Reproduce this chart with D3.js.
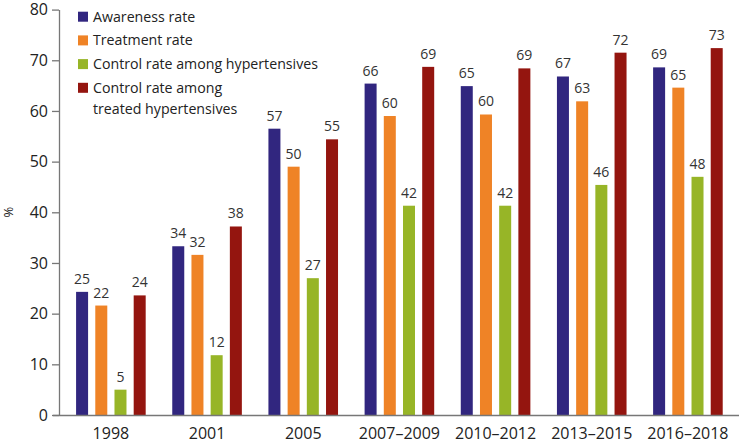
<!DOCTYPE html>
<html><head><meta charset="utf-8">
<script src="https://cdn.jsdelivr.net/npm/d3@7"></script>
<style>body{margin:0;background:#fff}svg{display:block}text{font-family:"Open Sans",sans-serif}</style>
</head><body><svg id="c" width="740" height="443"></svg>
<script>
const categories = ["1998","2001","2005","2007\u20132009","2010\u20132012","2013\u20132015","2016\u20132018"];
const seriesNames = ["Awareness rate","Treatment rate","Control rate among hypertensives","Control rate among treated hypertensives"];
const awareness = [24.3,33.3,56.5,65.4,64.9,66.8,68.6];
const treatment = [21.6,31.6,49.0,59.0,59.3,61.9,64.6];
const controlAll = [5.0,11.8,27.0,41.3,41.3,45.4,47.0];
const controlTreated = [23.6,37.2,54.4,68.7,68.4,71.5,72.4];
const awarenessLabels = ["25","34","57","66","65","67","69"];
const treatmentLabels = ["22","32","50","60","60","63","65"];
const controlAllLabels = ["5","12","27","42","42","46","48"];
const controlTreatedLabels = ["24","38","55","69","69","72","73"];
const yTicks = [0,10,20,30,40,50,60,70,80];
const colors = ["#31267f","#ef8326","#97b527","#94150f"];

const series = [
  {name:seriesNames[0], values:awareness, labels:awarenessLabels},
  {name:seriesNames[1], values:treatment, labels:treatmentLabels},
  {name:seriesNames[2], values:controlAll, labels:controlAllLabels},
  {name:seriesNames[3], values:controlTreated, labels:controlTreatedLabels}
];

const svg = d3.select("#c");
const y = d3.scaleLinear().domain([0,80]).range([415,9.6]);
const x0 = d3.scaleBand().domain(categories).range([62.8,736]).padding(0);
const x1 = d3.scaleBand().domain(d3.range(4)).range([0,69.6]).paddingInner(0.375).paddingOuter(0);
const groupOffset = (x0.bandwidth()-69.6)/2;

// bars
const g = svg.append("g");
categories.forEach((c,ci)=>{
  series.forEach((s,si)=>{
    const bx = x0(c)+groupOffset+x1(si);
    g.append("rect").attr("x",bx).attr("width",x1.bandwidth())
      .attr("y",y(s.values[ci])).attr("height",y(0)-y(s.values[ci]))
      .attr("fill",colors[si]);
    g.append("text").attr("x",bx+x1.bandwidth()/2).attr("y",y(s.values[ci])-8)
      .attr("text-anchor","middle").attr("font-size",14).attr("fill","#333")
      .text(s.labels[ci]);
  });
});

// y axis
const yAxis = svg.append("g").attr("transform","translate(59,0)")
  .call(d3.axisLeft(y).tickValues(yTicks).tickSize(7).tickPadding(4).tickSizeOuter(0));
yAxis.select(".domain").attr("stroke","#777").attr("stroke-width",1.3);
yAxis.selectAll(".tick line").attr("stroke","#777").attr("stroke-width",1.3);
yAxis.selectAll(".tick text").attr("font-size",16).attr("fill","#222").attr("font-family","Open Sans, sans-serif");

// x axis
const xAxis = svg.append("g").attr("transform","translate(0,415)")
  .call(d3.axisBottom(x0).tickSize(0).tickPadding(13));
xAxis.select(".domain").attr("d","M53,0.5H739").attr("stroke","#777").attr("stroke-width",1.3);
xAxis.selectAll(".tick text").attr("font-size",16).attr("fill","#222").attr("font-family","Open Sans, sans-serif");

// y label
svg.append("text").attr("transform","translate(13,212) rotate(-90)")
  .attr("text-anchor","middle").attr("font-size",13).attr("fill","#222").text("%");

// legend
const legendLines = [["Awareness rate"],["Treatment rate"],["Control rate among hypertensives"],["Control rate among","treated hypertensives"]];
const lg = svg.append("g");
legendLines.forEach((lines,i)=>{
  const cy = 16.7 + i*23.7;
  lg.append("rect").attr("x",78).attr("y",cy-5).attr("width",10).attr("height",10).attr("fill",colors[i]);
  lines.forEach((t,j)=>{
    lg.append("text").attr("x",93).attr("y",cy+5+j*20.7).attr("font-size",14.2).attr("fill","#222").text(t);
  });
});
</script></body></html>
